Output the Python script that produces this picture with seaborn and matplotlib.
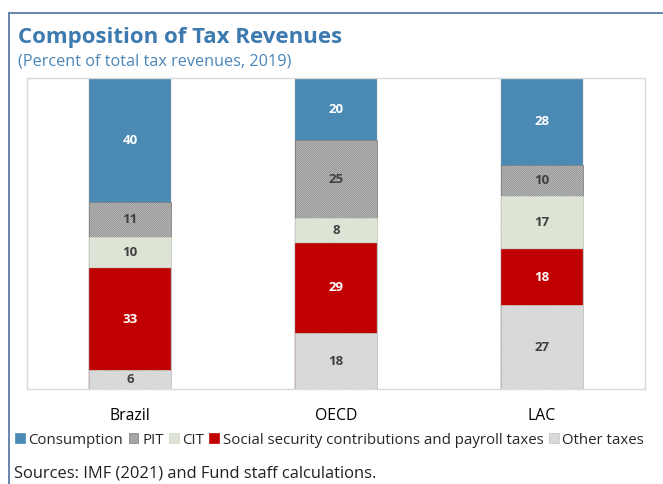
import matplotlib
matplotlib.use("Agg")
import matplotlib.pyplot as plt
import matplotlib.patches as mpatches
from matplotlib.lines import Line2D
import numpy as np
import pandas as pd
import seaborn as sns

countries = ["Brazil", "OECD", "LAC"]
series = ["Consumption", "PIT", "CIT", "Social security contributions and payroll taxes", "Other taxes"]
consumption = [40, 20, 28]
pit = [11, 25, 10]
cit = [10, 8, 17]
ssc = [33, 29, 18]
other = [6, 18, 27]

values = {
    "Consumption": consumption,
    "PIT": pit,
    "CIT": cit,
    "Social security contributions and payroll taxes": ssc,
    "Other taxes": other,
}
face = {
    "Consumption": "#4a8ab5",
    "PIT": "#d0d0d0",
    "CIT": "#edf2e6",
    "Social security contributions and payroll taxes": "#c00000",
    "Other taxes": "#ededed",
}
hatch_col = {
    "Consumption": "#4a8ab5",
    "PIT": "#7a7a7a",
    "CIT": "#cdd6c4",
    "Social security contributions and payroll taxes": "#c00000",
    "Other taxes": "#c4c4c4",
}
hatches = {
    "Consumption": None,
    "PIT": "/" * 18,
    "CIT": "/" * 18,
    "Social security contributions and payroll taxes": None,
    "Other taxes": "/" * 18,
}
txt_col = {
    "Consumption": "white",
    "PIT": "#404040",
    "CIT": "#404040",
    "Social security contributions and payroll taxes": "white",
    "Other taxes": "#404040",
}

sns.set_style("white")
plt.rcParams["font.family"] = ["Open Sans", "DejaVu Sans"]
plt.rcParams["hatch.linewidth"] = 0.45

fig = plt.figure(figsize=(6.63, 4.84), dpi=100)
ax = fig.add_axes([27 / 663, 1 - 389 / 484, (645 - 27) / 663, (389 - 78) / 484])

# stacking order bottom->top
stack = ["Other taxes", "Social security contributions and payroll taxes", "CIT", "PIT", "Consumption"]
cum = np.zeros(len(countries))
bottoms = {}
for s in stack:
    bottoms[s] = cum.copy()
    cum = cum + np.array(values[s])
tops = {s: bottoms[s] + np.array(values[s]) for s in stack}

# draw from tallest cumulative to shortest (overlap)
for s in reversed(stack):
    df = pd.DataFrame({"country": countries, "top": tops[s]})
    n_before = len(ax.patches)
    sns.barplot(data=df, x="country", y="top", order=countries, color=face[s],
                width=0.4, ax=ax, edgecolor=hatch_col[s], linewidth=0.5,
                saturation=1, errorbar=None)
    for p in ax.patches[n_before:]:
        p.set_facecolor(face[s])
        if hatches[s]:
            p.set_hatch(hatches[s])
            p.set_edgecolor(hatch_col[s])
        else:
            p.set_edgecolor("#a0a0a0")
            p.set_linewidth(0.3)

# labels
for s in stack:
    for i, v in enumerate(values[s]):
        ax.text(i, bottoms[s][i] + v / 2, f"{v}", ha="center", va="center",
                fontsize=9.5, fontweight="bold", color=txt_col[s])

ax.set_ylim(0, 100)
ax.set_xlim(-0.5, 2.5)
ax.set_xlabel("")
ax.set_ylabel("")
ax.set_yticks([])
ax.tick_params(axis="x", which="major", length=0, pad=14, labelsize=11.3, labelcolor="#000000")
ax.set_xticks([0.5, 1.5], minor=True)
ax.tick_params(axis="x", which="minor", direction="in", length=4, color="#c8c8c8", width=0.8)
for sp in ax.spines.values():
    sp.set_visible(True)
    sp.set_color("#d9d9d9")
    sp.set_linewidth(1.0)

# title & subtitle
fig.text(18 / 663, 1 - 37 / 484, "Composition of Tax Revenues", fontsize=16, fontweight="bold",
         color="#3d7ab0", ha="left", va="center")
fig.text(18 / 663, 1 - 62 / 484, "(Percent of total tax revenues, 2019)", fontsize=11.7,
         color="#4a86b8", ha="left", va="center")

# legend
handles = []
for s in series:
    handles.append(mpatches.Patch(facecolor=face[s], edgecolor=hatch_col[s] if hatches[s] else face[s],
                                  hatch=hatches[s], linewidth=0.5))
fig.legend(handles, series, loc="center left", bbox_to_anchor=(15 / 663, 1 - 440 / 484),
           ncol=5, frameon=False, fontsize=10.8, handlelength=0.65, handleheight=0.65,
           handletextpad=0.25, columnspacing=0.35, borderaxespad=0, borderpad=0)

fig.text(14 / 663, 1 - 474 / 484, "Sources: IMF (2021) and Fund staff calculations.",
         fontsize=11.9, color="#222222", ha="left", va="center")

# figure border (left and top)
bc = "#5071a0"
fig.add_artist(Line2D([8.5 / 663, 8.5 / 663], [0, 1 - 13 / 484], transform=fig.transFigure,
                      color=bc, linewidth=1.2))
fig.add_artist(Line2D([8.5 / 663, 1], [1 - 13 / 484, 1 - 13 / 484], transform=fig.transFigure,
                      color=bc, linewidth=1.2))

fig.savefig("out.png", dpi=100)
